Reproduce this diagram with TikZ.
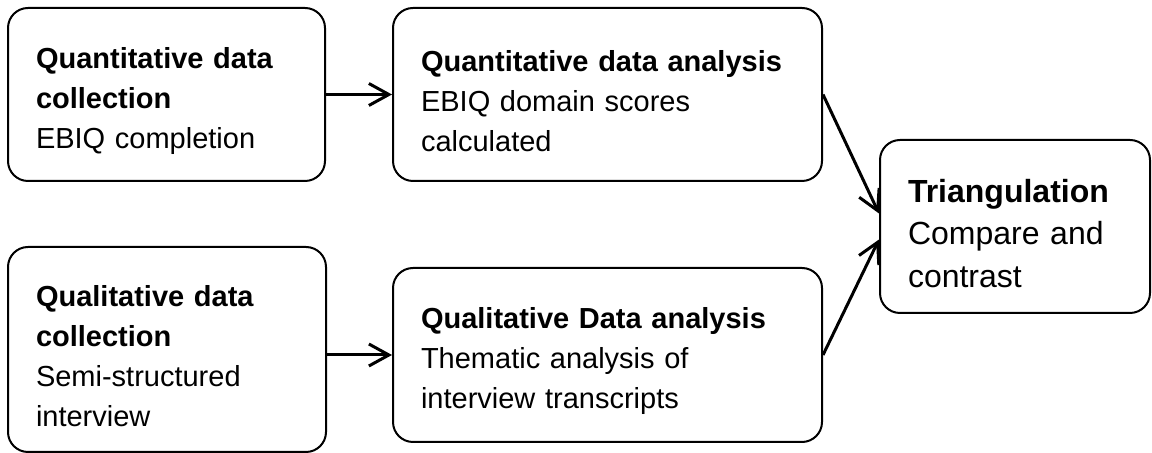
\documentclass[tikz,border=0pt]{standalone}
\usepackage{fontspec}
\setmainfont{Liberation Sans}
\usetikzlibrary{arrows.meta}

\tikzset{
  stage/.style={draw, line width=1pt, rounded corners=10pt, align=left,
    inner xsep=14pt, inner ysep=0pt, font=\fontsize{14.5}{20}\selectfont,
    execute at begin node={\rule{0pt}{1.15em}}},
  flow/.style={-{Straight Barb[length=10pt, width=11pt]}, line width=1.5pt},
}

\begin{document}
\begin{tikzpicture}[x=0.5pt, y=-0.5pt]
    \useasboundingbox (0,0) rectangle (1152,453);

    % Data collection
    \node[stage, minimum width=158.5pt, minimum height=86.5pt, text width=130.5pt] (qncol) at (166.5,94.5)
      {\textbf{Quantitative data}\\ \textbf{collection}\\ EBIQ completion};
    \node[stage, minimum width=159pt, minimum height=102.5pt, text width=131pt] (qlcol) at (167,349.5)
      {\textbf{Qualitative data}\\ \textbf{collection}\\ Semi-structured\\ interview};

    % Data analysis
    \node[stage, minimum width=214.5pt, minimum height=86.5pt, text width=186.5pt] (qnana) at (607.5,94.5)
      {\textbf{Quantitative data analysis}\\ EBIQ domain scores\\ calculated};
    \node[stage, minimum width=214.5pt, minimum height=87pt, text width=186.5pt] (qlana) at (607.5,355)
      {\textbf{Qualitative Data analysis}\\ Thematic analysis of\\ interview transcripts};

    % Triangulation
    \node[stage, minimum width=135pt, minimum height=86.5pt, text width=107pt,
      font=\fontsize{16}{21.25}\selectfont] (tri) at (1015,226.5)
      {\textbf{Triangulation}\\ Compare and\\ contrast};

    % Arrows
    \draw[flow] (qncol.east) -- (qnana.west);
    \draw[flow] (qlcol.east |- qlana.west) -- (qlana.west);
    \draw[flow] (qnana.east) -- ([yshift=6.5pt]tri.west);
    \draw[flow] (qlana.east) -- ([yshift=-6.5pt]tri.west);
\end{tikzpicture}
\end{document}
